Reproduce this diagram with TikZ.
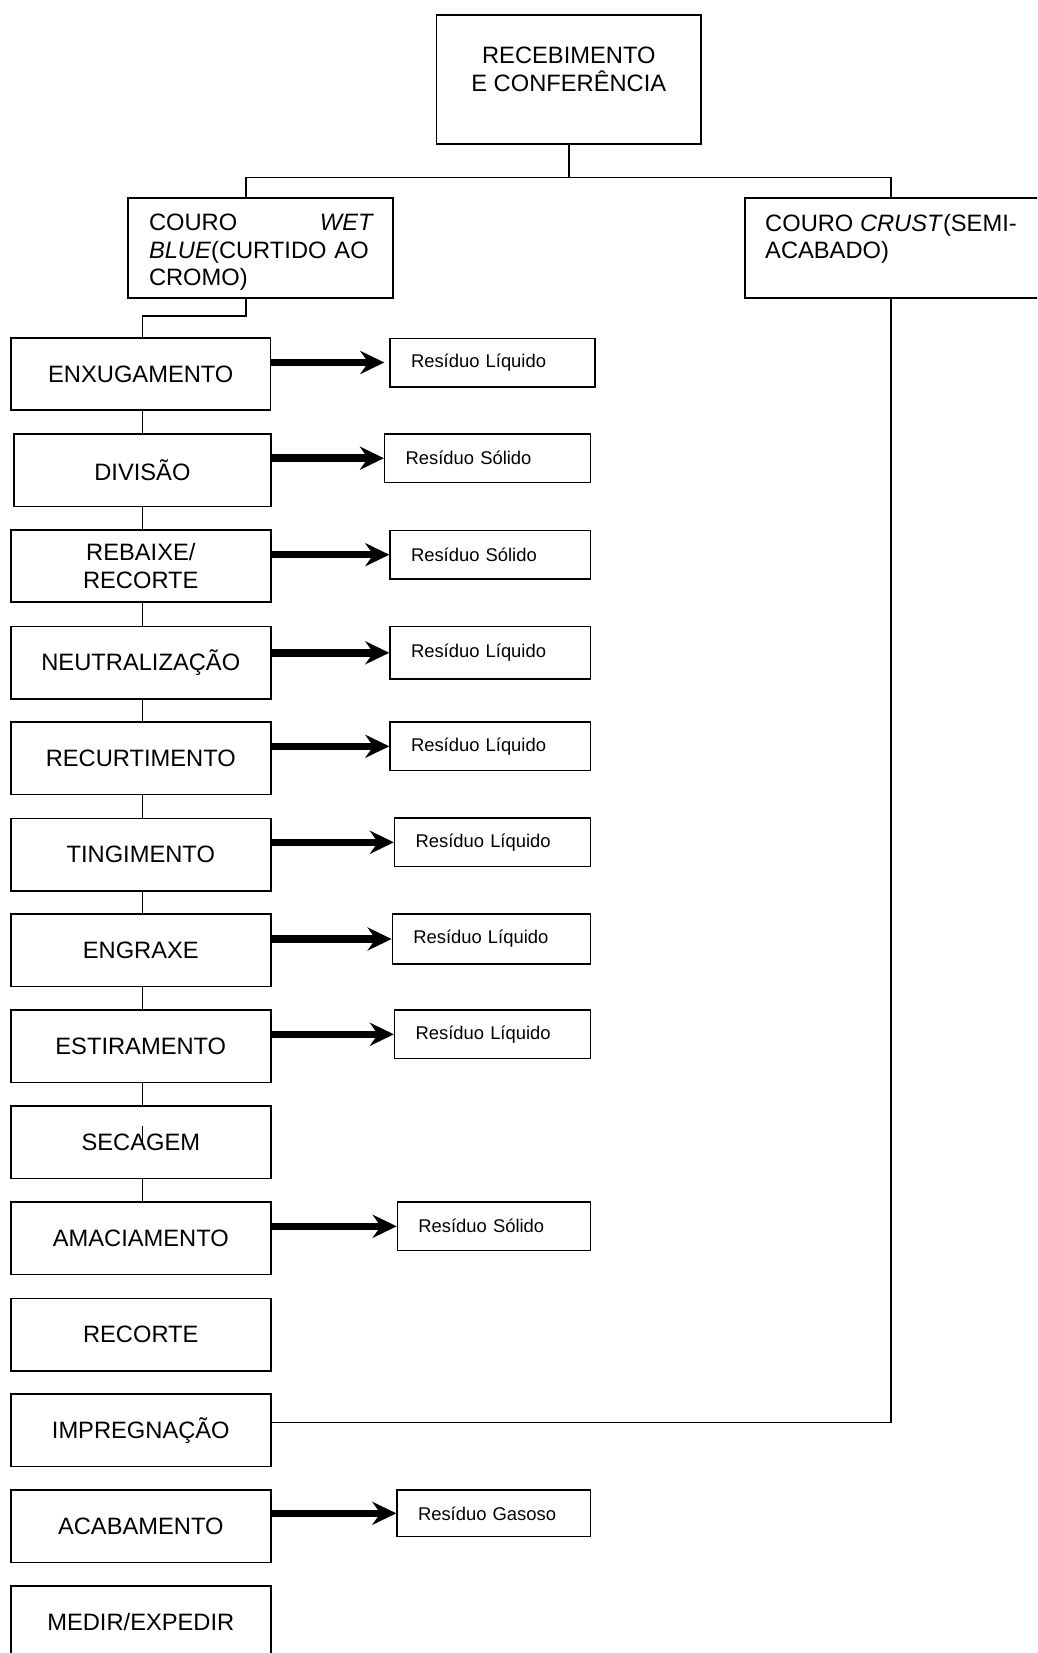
\documentclass[tikz,border=0pt]{standalone}
\usepackage{fontspec}
\setmainfont{Liberation Sans}
\usetikzlibrary{arrows.meta}
\begin{document}
\begin{tikzpicture}[x=1pt,y=-1pt,
  bigfont/.style={font=\fontsize{23.7}{27.6}\selectfont},
  frame/.style={draw, line width=1.7pt, inner sep=0pt},
  procbox/.style={frame, bigfont, minimum width=260.2pt, minimum height=72.3pt, align=center},
  resbox/.style={draw, line width=1.4pt, inner ysep=0pt, inner xsep=21pt, align=left,
                 font=\fontsize{18.4}{22}\selectfont, minimum height=48.6pt},
  conn/.style={line width=1.4pt},
  outarrow/.style={line width=7.5pt, -{Stealth[length=24pt,width=23pt,inset=8pt]}},
  ]
\useasboundingbox (0,0) rectangle (1037,1653);
\fill[white] (0,0) rectangle (1037,1653);
\clip (0,0) rectangle (1037,1653);

% top level
\node[frame, minimum width=264.5pt, minimum height=129pt] (top) at (568.8,79.5) {};
\node[bigfont, anchor=north, inner sep=0pt, align=center] (toptext) at (568.8,47) {RECEBIMENTO\\E CONFERÊNCIA};

\node[frame, minimum width=265.3pt, minimum height=100pt] (wet) at (260.3,247.7) {};
\node[bigfont, anchor=north west, inner sep=0pt, text width=225pt, align=left] (wettext) at (148.8,214)
  {COURO\hfill\textit{WET}\\\textit{BLUE}(CURTIDO AO\\CROMO)};

\node[frame, minimum width=320pt, minimum height=100pt] (crust) at (904.7,247.7) {};
\node[bigfont, anchor=north west, inner sep=0pt, align=left] (crusttext) at (765,214)
  {COURO \textit{CRUST}(SEMI-\\ACABADO)};

% process boxes
\node[procbox, minimum width=259.5pt] (enx) at (140.8,374) {ENXUGAMENTO};
\node[procbox, minimum width=257pt] (div) at (142.4,470.4) {DIVISÃO};
\node[procbox] (reb) at (140.8,566) {REBAIXE/\\RECORTE};
\node[procbox] (neu) at (140.8,662.5) {NEUTRALIZAÇÃO};
\node[procbox] (rec) at (140.8,758.3) {RECURTIMENTO};
\node[procbox] (tin) at (140.8,854.5) {TINGIMENTO};
\node[procbox] (eng) at (140.8,950.3) {ENGRAXE};
\node[procbox] (est) at (140.8,1046.3) {ESTIRAMENTO};
\node[procbox] (sec) at (140.8,1142.3) {SECAGEM};
\node[procbox] (ama) at (140.8,1238.3) {AMACIAMENTO};
\node[procbox] (rct) at (140.8,1334.7) {RECORTE};
\node[procbox] (imp) at (140.8,1430.3) {IMPREGNAÇÃO};
\node[procbox] (aca) at (140.8,1526.3) {ACABAMENTO};
\node[procbox] (med) at (140.8,1622.2) {MEDIR/EXPEDIR};

% residue boxes
\node[resbox, text width=163pt] (r1) at (492.5,362.5) {Resíduo Líquido};
\node[resbox, text width=163.7pt] (r2) at (487.5,458.2) {Resíduo Sólido};
\node[resbox, text width=158.4pt] (r3) at (490.2,554.7) {Resíduo Sólido};
\node[resbox, text width=158.4pt, minimum height=52.3pt] (r4) at (490.2,652.8) {Resíduo Líquido};
\node[resbox, text width=158.4pt] (r5) at (490.2,746.3) {Resíduo Líquido};
\node[resbox, text width=153.8pt] (r6) at (492.5,842.3) {Resíduo Líquido};
\node[resbox, text width=156pt, minimum height=50pt] (r7) at (491.3,939) {Resíduo Líquido};
\node[resbox, text width=153.8pt] (r8) at (492.5,1034.3) {Resíduo Líquido};
\node[resbox, text width=151pt] (r9) at (493.9,1226.3) {Resíduo Sólido};
\node[resbox, text width=151.4pt, minimum height=46.7pt] (r10) at (493.7,1513.3) {Resíduo Gasoso};

% connectors
\coordinate (lx) at (246,177.7);
\coordinate (rx) at (891,177.7);
\coordinate (spine) at (142.5,0);
\coordinate (jog) at (142.5,316);

\draw[conn] (top.south) -- (top.south |- lx);
\draw[conn] (lx |- wet.north) -- (lx) -- (rx) -- (rx |- crust.north);
\draw[conn] (lx |- wet.south) |- (jog) -- (jog |- enx.north);
\draw[conn] (rx |- crust.south) |- ([yshift=8pt]imp.east);

\foreach \a/\b in {enx/div, div/reb, reb/neu, neu/rec, rec/tin, tin/eng, eng/est, est/sec, sec/ama}
  \draw[conn] (\a.south -| spine) -- (\b.north -| spine);

% small tick inside SECAGEM
\draw[line width=1.2pt] (sec.north -| spine) ++(0,21) -- ++(0,20);

\draw[outarrow, shorten >=5pt] (r1.west -| enx.east) -- (r1.west);
\foreach \a/\b in {div/r2, reb/r3, neu/r4, rec/r5, tin/r6, eng/r7, est/r8, ama/r9, aca/r10}
  \draw[outarrow] (\b.west -| \a.east) -- (\b.west);
\end{tikzpicture}
\end{document}
